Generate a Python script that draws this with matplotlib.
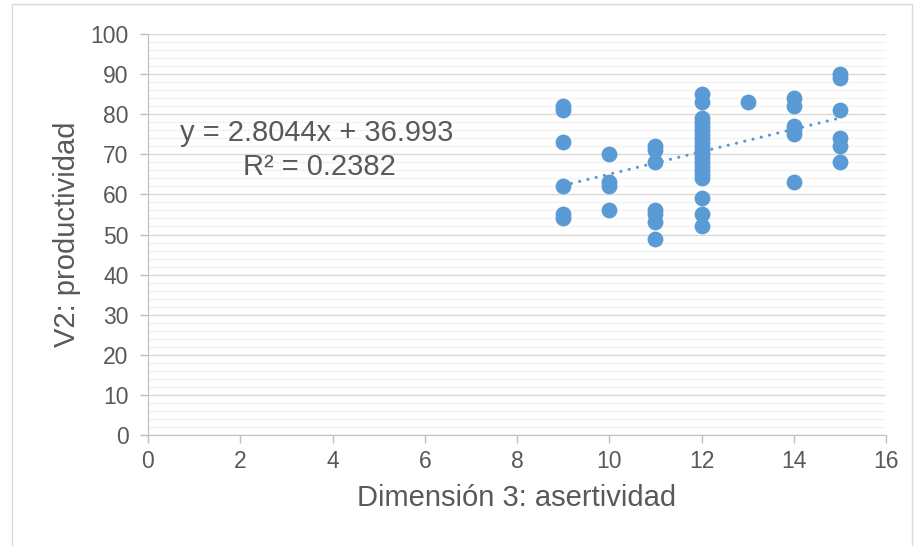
import numpy as np
import matplotlib
matplotlib.use("Agg")
import matplotlib.pyplot as plt
from matplotlib.ticker import MultipleLocator

plt.rcParams['font.family'] = ['Liberation Sans', 'DejaVu Sans']

# asertividad (x) y productividad (y)
x_vals = [9, 9, 9, 9, 9, 9,
          10, 10, 10, 10,
          11, 11, 11, 11, 11, 11, 11,
          12, 12, 12, 12, 12, 12, 12, 12, 12, 12, 12, 12, 12, 12, 12, 12, 12, 12, 12, 12, 12,
          13,
          14, 14, 14, 14, 14, 14,
          15, 15, 15, 15, 15, 15]
y_vals = [82, 81, 73, 62, 55, 54,
          70, 63, 62, 56,
          72, 71, 68, 56, 55, 53, 49,
          85, 83, 79, 78, 77, 76, 75, 74, 73, 72, 71, 70, 69, 68, 67, 66, 65, 64, 59, 55, 52,
          83,
          84, 82, 77, 76, 75, 63,
          90, 89, 81, 74, 72, 68]

slope = 2.8044
intercept = 36.993
r2 = 0.2382

blue = '#5b9bd5'
grey_txt = '#595959'

fig = plt.figure(figsize=(9.24, 5.46), dpi=100)
fig.patches.append(plt.Rectangle((12 / 924, -0.01), 900 / 924, 1 - 4 / 546 + 0.01,
                                 transform=fig.transFigure, fill=False,
                                 edgecolor='#d9d9d9', linewidth=1))
ax = fig.add_axes([148 / 924, 111 / 546, 738 / 924, 401 / 546])

ax.set_xlim(0, 16)
ax.set_ylim(0, 100)
ax.xaxis.set_major_locator(MultipleLocator(2))
ax.yaxis.set_major_locator(MultipleLocator(10))
ax.yaxis.set_minor_locator(MultipleLocator(2))

ax.grid(which='major', axis='y', color='#d9d9d9', linewidth=1)
ax.grid(which='minor', axis='y', color='#f2f2f2', linewidth=1)
ax.set_axisbelow(True)

ax.scatter(x_vals, y_vals, s=130, color=blue, zorder=3, linewidths=0)

# línea de tendencia
tx = np.array([min(x_vals), max(x_vals)])
ax.plot(tx, slope * tx + intercept, color=blue, linestyle=(0, (0.01, 2.65)),
        linewidth=2.3, dash_capstyle='round', zorder=4)

ax.text(0.229, 0.753, f'y = {slope}x + {intercept}', transform=ax.transAxes,
        ha='center', va='center', fontsize=21, color=grey_txt)
ax.text(0.232, 0.668, f'R² = {r2}', transform=ax.transAxes,
        ha='center', va='center', fontsize=21, color=grey_txt)

for side in ['top', 'right']:
    ax.spines[side].set_visible(False)
for side in ['left', 'bottom']:
    ax.spines[side].set_color('#bfbfbf')
ax.tick_params(which='major', colors='#bfbfbf', labelcolor=grey_txt,
               labelsize=16.5, length=6, width=1)
ax.tick_params(which='minor', left=False)
ax.tick_params(axis='x', pad=5)
ax.tick_params(axis='y', pad=8)

ax.set_xlabel('Dimensión 3: asertividad', fontsize=21, color=grey_txt, labelpad=8)
ax.set_ylabel('V2: productividad', fontsize=21, color=grey_txt, labelpad=7)

fig.savefig('out.png', dpi=100)
